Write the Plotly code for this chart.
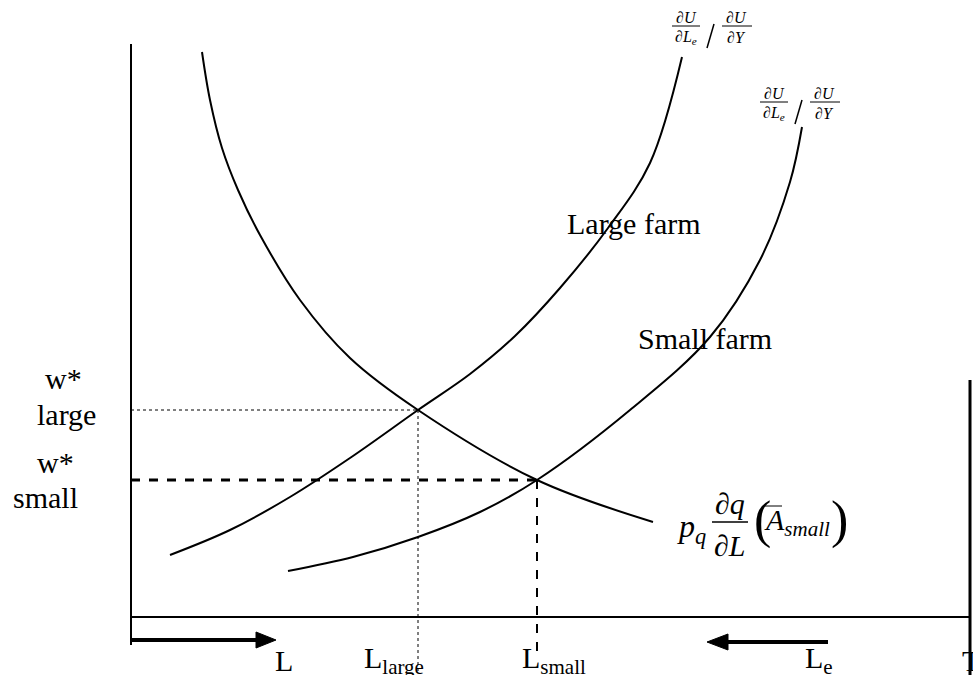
import plotly.graph_objects as go

# Diagram drawn in a pixel-like coordinate frame (x right, y down)
demand_x = [202, 210, 222, 238, 260, 300, 350, 418, 537, 653]
demand_y = [52, 100, 148, 190, 235, 300, 358, 410, 480, 522]

large_x = [170, 230, 290, 350, 418, 470, 515, 560, 608, 650, 682]
large_y = [555, 530, 497, 458, 410, 374, 336, 288, 228, 163, 57]

small_x = [288, 353, 418, 480, 537, 630, 710, 760, 790, 802]
small_y = [571, 557, 537, 512, 480, 410, 337, 260, 182, 127]

eq_large = (418, 410)
eq_small = (537, 480)

SERIF = "Liberation Serif"
BLACK = "#000000"

fig = go.Figure()

for xs, ys in [(demand_x, demand_y), (large_x, large_y), (small_x, small_y)]:
    fig.add_trace(go.Scatter(x=xs, y=ys, mode="lines",
                             line=dict(color=BLACK, width=2, shape="spline", smoothing=1.0),
                             hoverinfo="skip"))

shapes = []


def seg(x0, y0, x1, y1, width=2, dash="solid"):
    shapes.append(dict(type="line", xref="x", yref="y", x0=x0, y0=y0, x1=x1, y1=y1,
                       line=dict(color=BLACK, width=width, dash=dash)))


# axes
seg(131, 44, 131, 645)
seg(131, 617, 970, 617)
seg(970, 380, 970, 675, width=3)

# guide lines
seg(131, eq_large[1], eq_large[0], eq_large[1], width=1, dash="dot")
seg(eq_large[0], eq_large[1], eq_large[0], 672, width=1, dash="dot")
seg(131, eq_small[1], eq_small[0], eq_small[1], width=3, dash="dash")
seg(eq_small[0], eq_small[1], eq_small[0], 652, width=2, dash="dash")

# arrows
seg(131, 640, 258, 640, width=4)
shapes.append(dict(type="path", path="M 256 632 L 276 640 L 256 648 Z",
                   fillcolor=BLACK, line=dict(color=BLACK, width=1)))
seg(726, 642, 828, 642, width=4)
shapes.append(dict(type="path", path="M 728 634 L 707 642 L 728 650 Z",
                   fillcolor=BLACK, line=dict(color=BLACK, width=1)))

annotations = []


def txt(x, y, s, size=30, xanchor="center", yanchor="middle"):
    annotations.append(dict(x=x, y=y, xref="x", yref="y", text=s, showarrow=False,
                            xanchor=xanchor, yanchor=yanchor,
                            font=dict(family=SERIF, size=size, color=BLACK)))


def mrs_label(x0, y0):
    # dU/dLe / dU/dY built from pieces
    txt(x0 + 14, y0 - 9, "<i>∂U</i>", size=16)
    seg(x0, y0, x0 + 28, y0, width=1)
    txt(x0 + 14, y0 + 11, "<i>∂L<sub>e</sub></i>", size=16)
    seg(x0 + 35, y0 + 22, x0 + 42, y0 - 2, width=1.5)
    txt(x0 + 64, y0 - 9, "<i>∂U</i>", size=16)
    seg(x0 + 50, y0, x0 + 80, y0, width=1)
    txt(x0 + 64, y0 + 11, "<i>∂Y</i>", size=16)


mrs_label(672, 26)
mrs_label(760, 102)

txt(634, 223, "Large farm")
txt(705, 338, "Small farm")

txt(63, 378, "w*")
txt(66, 414, "large")
txt(55, 462, "w*")
txt(45, 497, "small")

txt(284, 660, "L")
txt(362, 660, "L<sub>large</sub>", xanchor="left")
txt(520, 660, "L<sub>small</sub>", xanchor="left")
txt(803, 660, "L<sub>e</sub>", xanchor="left")
txt(960, 660, "T", xanchor="left")

# demand label: p_q dq/dL (A_small)
txt(675, 528, "<i>p<sub>q</sub></i>", xanchor="left", size=32)
txt(730, 503, "<i>∂q</i>", size=30)
seg(712, 522, 748, 522, width=1.5)
txt(730, 545, "<i>∂L</i>", size=30)
txt(752, 520, "(", xanchor="left", size=52)
txt(762, 522, "<i>A<sub>small</sub></i>", xanchor="left", size=30)
seg(764, 506, 782, 506, width=1)
txt(829, 520, ")", xanchor="left", size=52)

fig.update_layout(
    width=973, height=675,
    margin=dict(l=0, r=0, t=0, b=0),
    paper_bgcolor="white", plot_bgcolor="white",
    showlegend=False,
    xaxis=dict(range=[0, 973], visible=False, fixedrange=True),
    yaxis=dict(range=[675, 0], visible=False, fixedrange=True),
    shapes=shapes,
    annotations=annotations,
)

# drop the default 8px page margin so the figure fills the window exactly
fig.write_html("out.html", config={"displayModeBar": False},
               post_script="document.body.style.margin='0';")
